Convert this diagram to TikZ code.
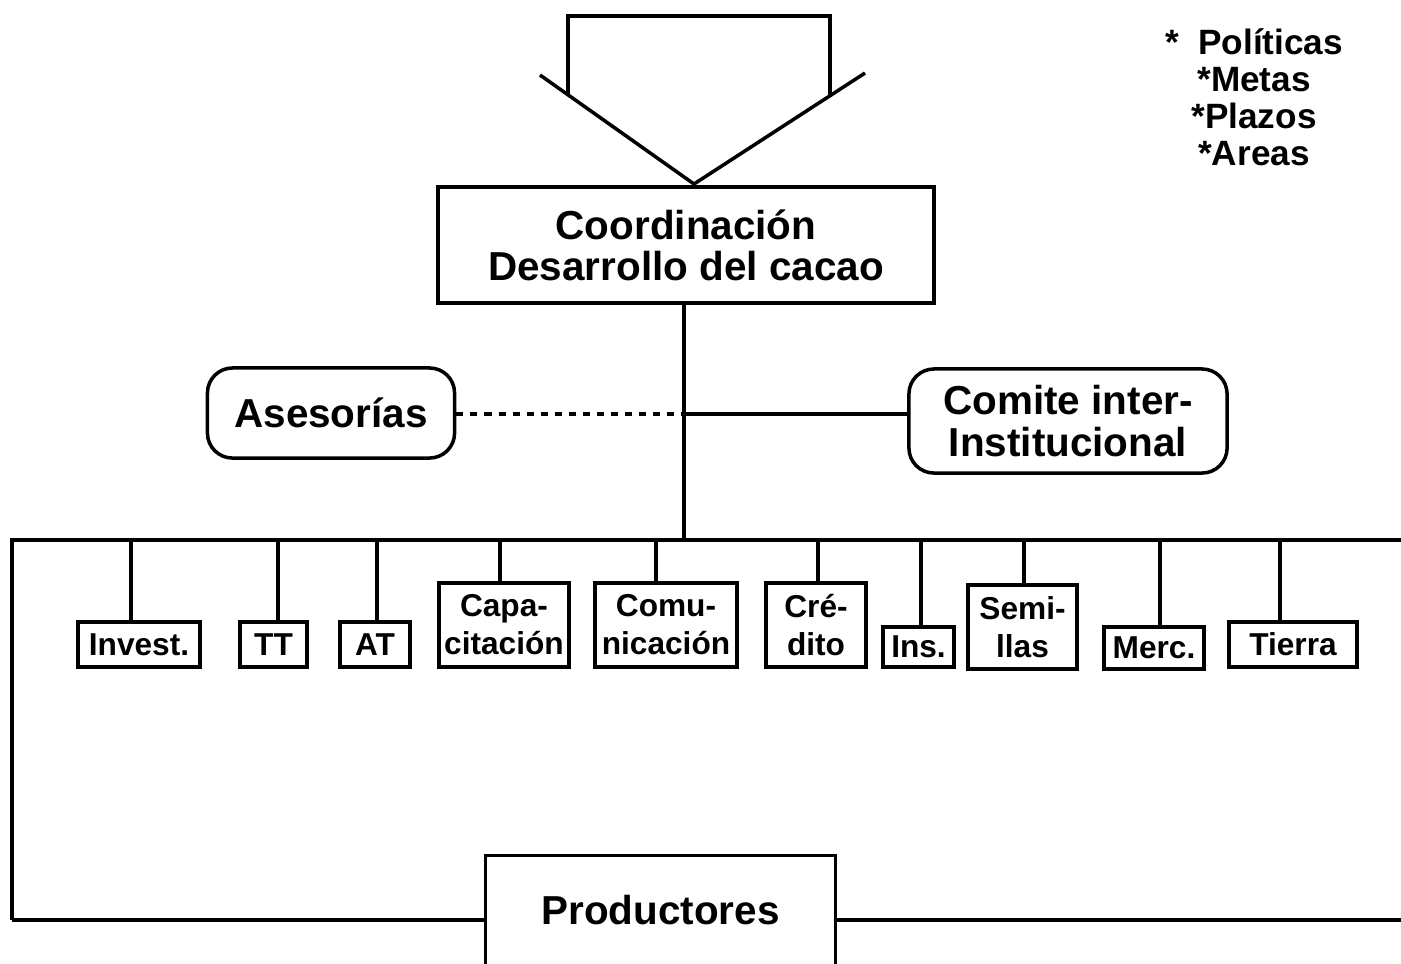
\documentclass[tikz,border=0pt]{standalone}
\usepackage{fontspec}
\setmainfont{Liberation Sans}

\tikzset{
  unit/.style={draw, line width=1pt, inner sep=0pt, align=center, font=\fontsize{9}{10.8}\selectfont\bfseries},
  head/.style={draw, line width=1pt, inner sep=0pt, align=center, font=\fontsize{11.5}{11.7}\selectfont\bfseries},
  roundbox/.style={head, rounded corners=0.25cm},
}

\begin{document}
\begin{tikzpicture}[x=0.01cm, y=-0.01cm, line width=1pt]
    \clip (0,0) rectangle (1401,963);

    % Funnel on top
    \draw (568,95) -- (568,16) -- (830,16) -- (830,97);
    \draw (540,75) -- (694,184) -- (865,73);

    % Objectives
    \node[align=center, font=\fontsize{10}{10.5}\selectfont\bfseries] (obj) at (1254,97)
        {*\ \ Políticas\\*Metas\\*Plazos\\*Areas};

    % Coordination and advisers
    \node[head, minimum width=4.96cm, minimum height=1.16cm] (coord) at (686,245) {Coordinación\\Desarrollo del cacao};
    \node[roundbox, minimum width=2.47cm, minimum height=0.90cm] (ases) at (331,413) {Asesorías};
    \node[roundbox, minimum width=3.18cm, minimum height=1.04cm] (comite) at (1068,421) {Comite inter-\\Institucional};
    \coordinate (j) at (684,414);
    \coordinate (busL) at (12,540);
    \coordinate (busR) at (1401,540);

    \draw (coord.south -| j) -- (busL -| j);
    \draw[dash pattern=on 2pt off 2pt] (ases.east |- j) -- (j);
    \draw (j) -- (j -| comite.west);

    % Units
    \node[unit, minimum width=1.22cm, minimum height=0.45cm] (inv) at (139,644.5) {Invest.};
    \node[unit, minimum width=0.67cm, minimum height=0.45cm] (tt) at (273.5,644.5) {TT};
    \node[unit, minimum width=0.70cm, minimum height=0.45cm] (at) at (375,644.5) {AT};
    \node[unit, minimum width=1.30cm, minimum height=0.84cm] (capa) at (504,625) {Capa-\\citación};
    \node[unit, minimum width=1.42cm, minimum height=0.84cm] (comu) at (666,625) {Comu-\\nicación};
    \node[unit, minimum width=1.00cm, minimum height=0.84cm] (cred) at (816,625) {Cré-\\dito};
    \node[unit, minimum width=0.71cm, minimum height=0.40cm] (ins) at (918.5,647) {Ins.};
    \node[unit, minimum width=1.09cm, minimum height=0.84cm] (semi) at (1022.5,627) {Semi-\\llas};
    \node[unit, minimum width=1.00cm, minimum height=0.42cm] (merc) at (1154,648) {Merc.};
    \node[unit, minimum width=1.28cm, minimum height=0.45cm] (tierra) at (1293,644.5) {Tierra};

    % Bus and stems
    \draw (busR) -- (busL) -- (12,920) coordinate (bl);
    \foreach \n/\s in {inv/131, tt/278, at/377, capa/500, comu/656, cred/818, ins/921, semi/1024, merc/1160, tierra/1280}
        \draw (\s,540 |- \n.north) -- (\s,540);

    % Producers
    \node[inner sep=0pt, minimum width=3.47cm, minimum height=1.06cm, font=\fontsize{11.5}{11.7}\selectfont\bfseries] (prod) at (660.5,910) {Productores};
    \draw[line width=0.8pt] (prod.south west) -- (prod.north west) -- (prod.north east) -- (prod.south east);
    \draw[line width=1.2pt] (bl) -- (bl -| prod.west);
    \draw[line width=1.2pt] (bl -| prod.east) -- (bl -| busR);
\end{tikzpicture}
\end{document}
